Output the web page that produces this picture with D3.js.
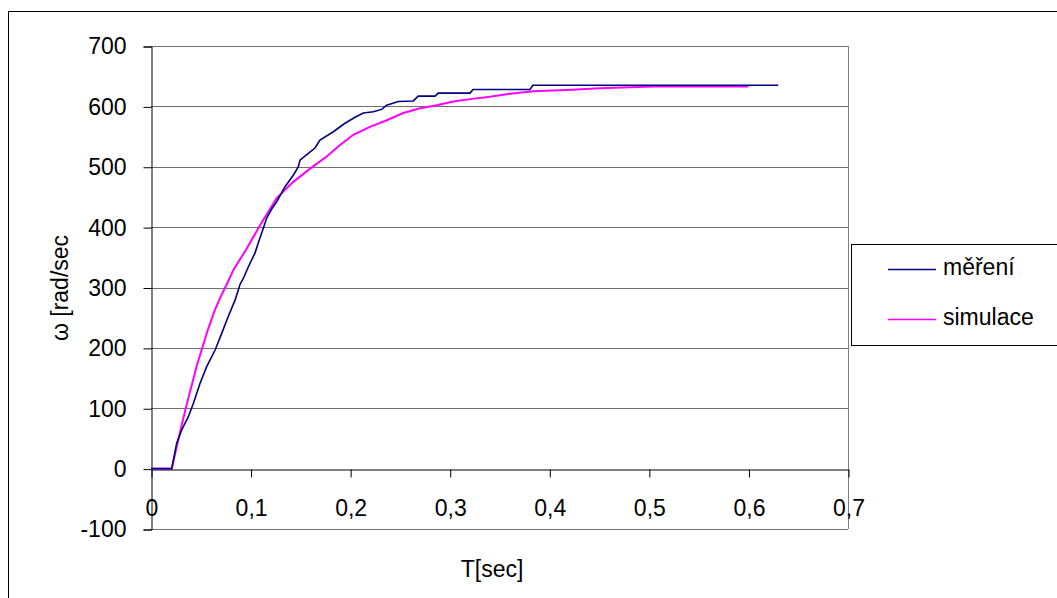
<!DOCTYPE html>
<html>
<head>
<meta charset="utf-8">
<script src="https://cdn.jsdelivr.net/npm/d3@7"></script>
<style>
  html, body { margin: 0; padding: 0; background: #fff; }
  svg text { font-family: "Liberation Sans", Arial, sans-serif; fill: #000; }
</style>
</head>
<body>
<svg id="chart" width="1057" height="598"></svg>
<script>
// Measured speed (měření), time in seconds, ω in rad/s
const timeMeas = [0, 0.0208, 0.0258, 0.0308, 0.0375, 0.0425, 0.0492, 0.0559, 0.0643, 0.0710, 0.0776, 0.0844, 0.0894, 0.0927, 0.0977, 0.1044, 0.1088, 0.1128, 0.1162, 0.1212, 0.1262, 0.1346, 0.1429, 0.1480, 0.1496, 0.1580, 0.1647, 0.1697, 0.1831, 0.1948, 0.1999, 0.2049, 0.2132, 0.2233, 0.2317, 0.2367, 0.2484, 0.2634, 0.2684, 0.2852, 0.2885, 0.3204, 0.3234, 0.3806, 0.3836, 0.630];
const omegaMeas = [0, 0, 42, 64, 86, 108, 141, 169, 196, 224, 252, 279, 305, 315, 334, 357, 379, 398, 415, 430, 442, 467, 486, 500, 511, 522, 531, 544, 558, 572, 577, 582, 589, 591, 595, 602, 608, 609, 617, 617, 622, 622, 628, 628, 635, 635];

// Simulated speed (simulace)
const timeSim = [0, 0.0208, 0.0258, 0.0308, 0.0358, 0.0409, 0.0459, 0.0515, 0.0575, 0.0640, 0.0700, 0.0760, 0.0830, 0.0960, 0.1095, 0.1262, 0.1429, 0.1614, 0.1765, 0.1898, 0.2032, 0.2199, 0.2367, 0.2534, 0.2702, 0.2869, 0.3036, 0.3204, 0.3405, 0.3606, 0.3836, 0.4175, 0.4510, 0.5040, 0.600];
const omegaSim = [0, 0, 36, 72, 106, 138, 170, 200, 232, 262, 285, 305, 330, 364, 403, 448, 475, 499, 517, 536, 553, 566, 577, 589, 597, 602, 608, 612, 616, 621, 625, 627, 630, 633, 633];

const xTicks = [0, 0.1, 0.2, 0.3, 0.4, 0.5, 0.6, 0.7];
const yTicks = [-100, 0, 100, 200, 300, 400, 500, 600, 700];
const seriesNames = ["měření", "simulace"];
const seriesColors = ["#000080", "#ff00ff"];

const FONT = 23;
const svg = d3.select("#chart");
const fmtX = d => d === 0 ? "0" : String(d).replace(".", ",");

const x = d3.scaleLinear().domain([0, 0.7]).range([151, 848]);
const y = d3.scaleLinear().domain([-100, 700]).range([529, 46]);

// outer chart frame
svg.append("rect").attr("x", 8.5).attr("y", 11.5).attr("width", 1100).attr("height", 700)
  .attr("fill", "none").attr("stroke", "#000").attr("stroke-width", 1);

// horizontal gridlines
svg.append("g").selectAll("line").data(yTicks.filter(v => v !== 0)).join("line")
  .attr("x1", x(0)).attr("x2", x(0.7))
  .attr("y1", d => Math.round(y(d)) + 0.5).attr("y2", d => Math.round(y(d)) + 0.5)
  .attr("stroke", "#6e6e6e").attr("stroke-width", 1);

// right edge of plot area
svg.append("line").attr("x1", Math.round(x(0.7)) + 0.5).attr("x2", Math.round(x(0.7)) + 0.5)
  .attr("y1", y(700)).attr("y2", y(-100)).attr("stroke", "#808080");

// y axis
const yAxis = d3.axisLeft(y).tickValues(yTicks).tickSize(8).tickPadding(17).tickFormat(d => String(d));
const gy = svg.append("g").attr("transform", `translate(${Math.round(x(0)) + 0.5},0.5)`).call(yAxis);
gy.select(".domain").attr("stroke", "#000");
gy.selectAll(".tick line").attr("stroke", "#000");
gy.selectAll(".tick text").attr("font-size", FONT).attr("font-family", "Liberation Sans, Arial, sans-serif");

// x axis through zero
const xAxis = d3.axisBottom(x).tickValues(xTicks).tickSize(8).tickPadding(22).tickFormat(fmtX).tickSizeOuter(0);
const gx = svg.append("g").attr("transform", `translate(0.5,${Math.round(y(0)) + 0.5})`).call(xAxis);
gx.select(".domain").attr("stroke", "#000");
gx.selectAll(".tick line").attr("stroke", "#000");
gx.selectAll(".tick text").attr("font-size", FONT).attr("font-family", "Liberation Sans, Arial, sans-serif");

// series
const line = d3.line().x(d => x(d[0])).y(d => y(d[1]));
const measPts = timeMeas.map((t, i) => [t, omegaMeas[i]]);
const simPts = timeSim.map((t, i) => [t, omegaSim[i]]);

svg.append("path").datum(simPts).attr("d", line)
  .attr("fill", "none").attr("stroke", seriesColors[1]).attr("stroke-width", 2);
svg.append("path").datum(measPts).attr("d", line)
  .attr("fill", "none").attr("stroke", seriesColors[0]).attr("stroke-width", 1.6);

// axis titles
svg.append("text").attr("x", 492).attr("y", 571).attr("text-anchor", "middle")
  .attr("dominant-baseline", "middle").attr("font-size", FONT).text("T[sec]");
svg.append("text").attr("transform", "translate(62,288) rotate(-90)").attr("text-anchor", "middle")
  .attr("dominant-baseline", "middle").attr("font-size", FONT).text("ω [rad/sec");

// legend
const lg = svg.append("g");
lg.append("rect").attr("x", 851.5).attr("y", 244.5).attr("width", 300).attr("height", 101)
  .attr("fill", "#fff").attr("stroke", "#000");
seriesNames.forEach((name, i) => {
  const ly = 269 + i * 50;
  lg.append("line").attr("x1", 888).attr("x2", 936).attr("y1", ly + 0.5).attr("y2", ly + 0.5)
    .attr("stroke", seriesColors[i]).attr("stroke-width", 1.6);
  lg.append("text").attr("x", 943).attr("y", ly).attr("dominant-baseline", "middle")
    .attr("font-size", FONT).text(name);
});
</script>
</body>
</html>
